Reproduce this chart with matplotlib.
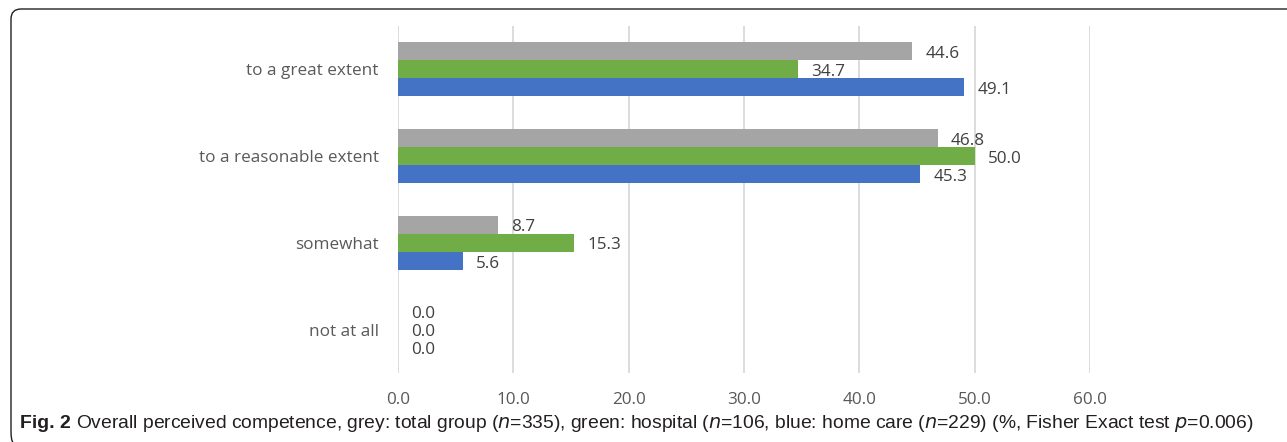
import matplotlib
matplotlib.use("Agg")
import matplotlib.pyplot as plt
from matplotlib.path import Path
import matplotlib.patches as mpatches
import numpy as np

categories = ["to a great extent", "to a reasonable extent", "somewhat", "not at all"]
total = [44.6, 46.8, 8.7, 0.0]
hospital = [34.7, 50.0, 15.3, 0.0]
home_care = [49.1, 45.3, 5.6, 0.0]
xticks = [0, 10, 20, 30, 40, 50, 60]

colors = ["#A5A5A5", "#70AD47", "#4472C4"]
series = [total, hospital, home_care]

fig = plt.figure(figsize=(12.87, 4.42), dpi=100)
ax = fig.add_axes([398/1287, 1-373/442, (1090-398)/1287, (373-26)/442])

FS = 12.3
y = np.arange(len(categories))
h = 0.208
offsets = [-h, 0, h]
for vals, col, off in zip(series, colors, offsets):
    ax.barh(y + off, vals, height=h, color=col, zorder=3)
    for yy, v in zip(y + off, vals):
        ax.text(v + 1.15, yy + 0.03, f"{v:.1f}", va="center", ha="left",
                fontsize=FS, color="#404040", family="Open Sans", zorder=4)

ax.set_ylim(3.5, -0.5)
ax.set_xlim(0, 60)
ax.set_xticks(xticks)
ax.set_xticklabels([f"{t:.1f}" for t in xticks], family="Open Sans", fontsize=FS, color="#595959")
ax.set_yticks(y)
ax.set_yticklabels(categories, family="Open Sans", fontsize=FS, color="#595959")
ax.tick_params(axis="both", length=0)
ax.tick_params(axis="x", pad=14)
ax.tick_params(axis="y", pad=14)
ax.xaxis.grid(True, color="#D9D9D9", linewidth=1.3, zorder=0)
for s in ax.spines.values():
    s.set_visible(False)

# frame with rounded left corners (open to the right / bottom)
x0, y0 = 11, 9
r = 10
ybot = 441
verts = [
    (1300, y0), (x0 + r, y0), (x0, y0), (x0, y0 + r),
    (x0, ybot - r), (x0, ybot), (x0 + r * 0.2, ybot + 1),
]
codes = [Path.MOVETO, Path.LINETO, Path.CURVE3, Path.CURVE3,
         Path.LINETO, Path.CURVE3, Path.CURVE3]
verts_fig = [(vx / 1287, 1 - vy / 442) for vx, vy in verts]
patch = mpatches.PathPatch(Path(verts_fig, codes), transform=fig.transFigure,
                           fill=False, edgecolor="#231F20", linewidth=1.0)
fig.patches.append(patch)

# caption
cap_y = 1 - 424/442
t1 = fig.text(20/1287, cap_y, "Fig. 2", fontsize=14, fontweight="bold",
              family="Liberation Sans", va="center", ha="left", color="#231F20")
r_ = fig.canvas.get_renderer()
x_end = t1.get_window_extent(r_).x1 + 5
t2 = fig.text(x_end / 1287, cap_y,
              "Overall perceived competence, grey: total group ($\\it{n}$=335), green: hospital ($\\it{n}$=106, "
              "blue: home care ($\\it{n}$=229) (%, Fisher Exact test $\\it{p}$=0.006)",
              fontsize=13, family="Liberation Sans", va="center", ha="left", color="#231F20")
w = t2.get_window_extent(r_).width
t2.set_fontsize(13 * (1252 - x_end) / w)

fig.savefig("out.png", dpi=100)
